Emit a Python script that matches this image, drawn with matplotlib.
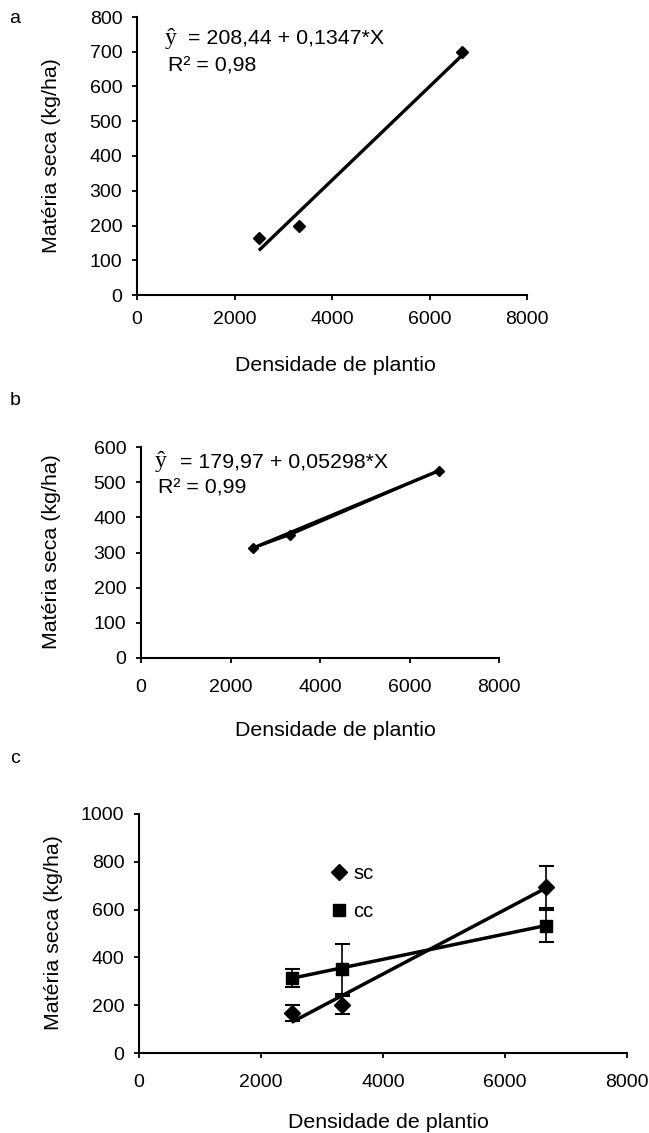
import matplotlib
matplotlib.use('Agg')
import matplotlib.pyplot as plt
from matplotlib.lines import Line2D
import numpy as np

plt.rcParams['font.family'] = ['Liberation Sans', 'DejaVu Sans']

W, H = 649, 1133

# ---------------- data ----------------
density = [2500, 3333, 6667]

# panel a (sem cobertura)
ms_a = [165, 200, 698]
reg_a = (-208.44, 0.1347)          # intercept, slope of trend line
eq_a = "= 208,44 + 0,1347*X"
r2_a = "R\u00b2 = 0,98"

# panel b (com cobertura)
ms_b = [312, 350, 533]
reg_b = (179.97, 0.05298)
eq_b = "= 179,97 + 0,05298*X"
r2_b = "R\u00b2 = 0,99"

# panel c
sc_mean = [168, 200, 695]
sc_err = [33, 38, 88]
cc_mean = [315, 350, 530]
cc_err = [38, 105, 67]

xticks = [0, 2000, 4000, 6000, 8000]
yticks_a = [0, 100, 200, 300, 400, 500, 600, 700, 800]
yticks_b = [0, 100, 200, 300, 400, 500, 600]
yticks_c = [0, 200, 400, 600, 800, 1000]

xlabel = "Densidade de plantio"
ylabel = "Matéria seca (kg/ha)"

# ---------------- figure ----------------
fig = plt.figure(figsize=(W / 100, H / 100), dpi=100)


def px_axes(l, t, r, b):
    return fig.add_axes([l / W, 1 - b / H, (r - l) / W, (b - t) / H])


def fx(x):
    return x / W


def fy(y):
    return 1 - y / H


def style(ax, yticks, xpad):
    for s in ['top', 'right']:
        ax.spines[s].set_visible(False)
    for s in ['left', 'bottom']:
        ax.spines[s].set_linewidth(1.5)
        ax.spines[s].set_color('black')
    ax.set_xlim(0, 8000)
    ax.set_ylim(yticks[0], yticks[-1])
    ax.set_xticks(xticks)
    ax.set_yticks(yticks)
    ax.tick_params(axis='both', direction='out', length=3.6, width=1.3,
                   labelsize=14, colors='black')
    ax.tick_params(axis='y', pad=7)
    ax.tick_params(axis='x', pad=xpad)


TXT = 15.4

xs = np.array([min(density), max(density)])

# ---- panel a ----
axa = px_axes(137, 17, 527, 295)
axa.plot(xs, reg_a[0] + reg_a[1] * xs, color='black', lw=2.4,
         solid_capstyle='butt')
axa.plot(density, ms_a, linestyle='none', marker='D', ms=6.5,
         color='black')
style(axa, yticks_a, 8)

# ---- panel b ----
axb = px_axes(141, 447, 499, 658)
axb.plot(density, ms_b, color='black', lw=1.6, marker='D', ms=5.5)
axb.plot(xs, reg_b[0] + reg_b[1] * xs, color='black', lw=2.4,
         solid_capstyle='butt')
style(axb, yticks_b, 11.5)

# ---- panel c ----
axc = px_axes(139, 814, 627, 1053)
axc.plot(xs, reg_a[0] + reg_a[1] * xs, color='black', lw=2.5,
         solid_capstyle='butt')
axc.plot(xs, reg_b[0] + reg_b[1] * xs, color='black', lw=2.5,
         solid_capstyle='butt')
axc.errorbar(density, sc_mean, yerr=sc_err, fmt='D', ms=8, color='black',
             ecolor='black', elinewidth=1.2, capsize=5.4, capthick=1.5)
axc.errorbar(density, cc_mean, yerr=cc_err, fmt='s', ms=8, color='black',
             markeredgecolor='black', markerfacecolor='black',
             ecolor='black', elinewidth=1.2, capsize=5.4, capthick=1.5)
style(axc, yticks_c, 11.5)

h_sc = Line2D([], [], linestyle='none', marker='D', ms=8, color='black')
h_cc = Line2D([], [], linestyle='none', marker='s', ms=8, color='black')
axc.legend([h_sc, h_cc], ['sc', 'cc'], loc='upper left',
           bbox_to_anchor=(fx(329), fy(864)), bbox_transform=fig.transFigure,
           frameon=False, fontsize=14.5, handlelength=1.0, handletextpad=0.2,
           labelspacing=0.95, borderpad=0, borderaxespad=0)

# ---------------- texts ----------------
for lab, x, y in [("a", 9, 23), ("b", 10, 405), ("c", 10, 763)]:
    fig.text(fx(x), fy(y), lab, fontsize=14, ha='left', va='baseline')

for x, y in [(52, 156), (52, 552), (54, 933)]:
    fig.text(fx(x), fy(y), ylabel, fontsize=TXT, rotation=90,
             ha='center', va='center')

for x, y in [(335, 366), (335, 730), (388, 1123)]:
    fig.text(fx(x), fy(y), xlabel, fontsize=TXT, ha='center', va='center')

# equations
for (hx, ex, y1, rx, y2, eq, r2) in [(165, 188, 44, 168, 72, eq_a, r2_a),
                                     (155, 180, 467, 158, 494, eq_b, r2_b)]:
    fig.text(fx(hx), fy(y1), "\u0177", fontsize=17,
             family=['Liberation Serif', 'DejaVu Serif'],
             ha='left', va='baseline')
    fig.text(fx(ex), fy(y1), eq, fontsize=TXT, ha='left', va='baseline')
    fig.text(fx(rx), fy(y2), r2, fontsize=TXT, ha='left', va='baseline')

fig.savefig('out.png', dpi=100)
